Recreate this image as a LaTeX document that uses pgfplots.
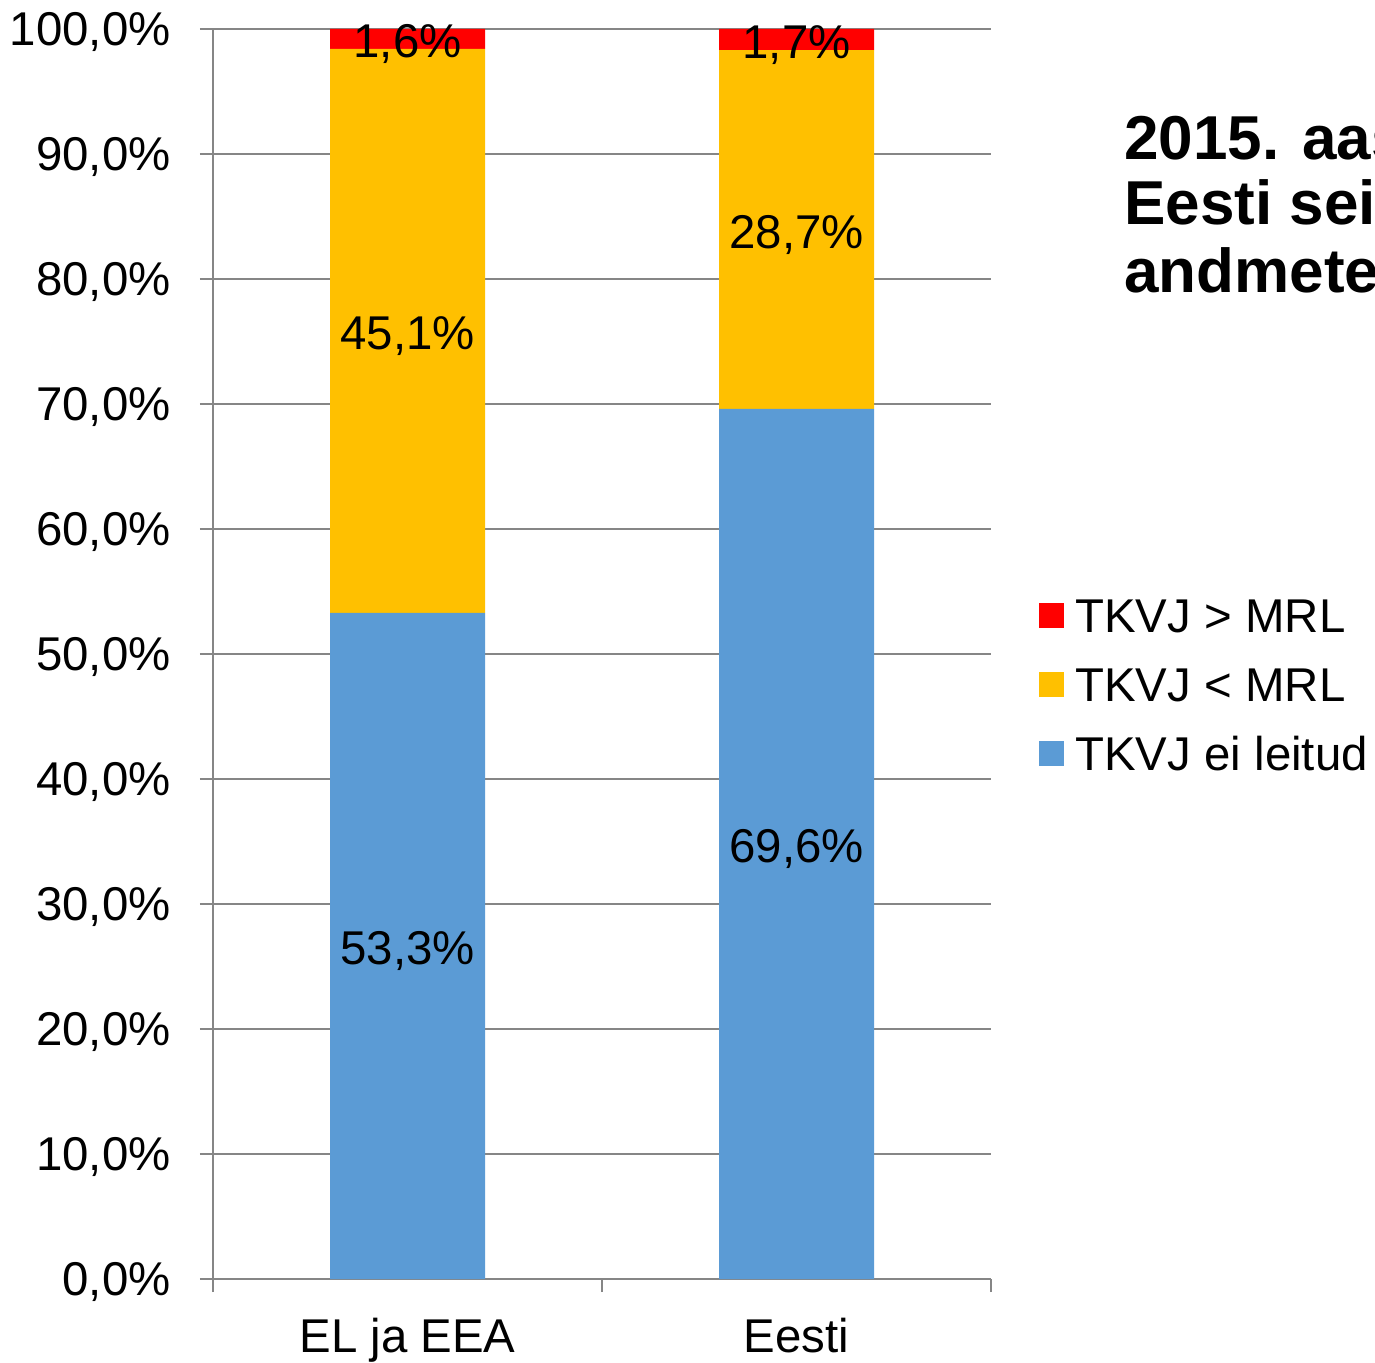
\documentclass[border=0pt]{standalone}
\usepackage{fontspec}
\setmainfont{Liberation Sans}
\usepackage{pgfplots}
\pgfplotsset{compat=1.18}
\usepackage{pgfplotstable}

\definecolor{cblue}{RGB}{91,155,213}
\definecolor{cyel}{RGB}{255,192,0}
\definecolor{cred}{RGB}{255,0,0}
\definecolor{cgrid}{RGB}{134,134,134}

% shares in percent, bottom to top
\pgfplotstableread{
x blue yellow red
0 53.3 45.1 1.6
1 69.6 28.7 1.7
}\shares

\newcommand\bigf{\fontsize{23.7pt}{28pt}\selectfont}

\begin{document}
\begin{tikzpicture}
\useasboundingbox (0pt,0pt) rectangle (687.5pt,681pt);
\begin{axis}[
    at={(106.5pt,41.5pt)}, anchor=south west,
    scale only axis, width=389pt, height=625pt,
    ybar stacked, bar width=77.5pt,
    xmin=-0.5, xmax=1.5, ymin=0, ymax=100,
    axis x line*=bottom, axis y line*=left,
    axis line style={cgrid, line width=0.75pt, -},
    tick style={cgrid, line width=0.75pt},
    tick align=outside, major tick length=6.5pt,
    ymajorgrids, grid style={cgrid, line width=0.75pt},
    /pgf/number format/assume math mode=true,
    ytick={0,10,...,100},
    yticklabel={\pgfmathprintnumber[fixed,fixed zerofill,precision=1,use comma]{\tick}\%},
    xtick={-0.5,0.5,1.5}, xticklabels={,,},
    extra x ticks={0,1}, extra x tick labels={EL ja EEA,Eesti},
    extra x tick style={major tick length=0pt},
    tick label style={font=\bigf},
    yticklabel style={inner sep=0pt, xshift=-14.5pt, yshift=-1.5pt},
    xticklabel style={inner sep=0pt, text height=17pt, yshift=-19.5pt},
    point meta=explicit,
    nodes near coords={\pgfmathprintnumber[fixed,fixed zerofill,precision=1,use comma]{\pgfplotspointmeta}\%},
    every node near coord/.append style={font=\bigf, text=black, anchor=center, yshift=-2.5pt},
    reverse legend,
    legend style={at={(1.0617,0.548)}, anchor=north west, draw=none, fill=none,
        inner sep=0pt, font=\bigf, row sep=12pt, column sep=3.5pt,
        cells={anchor=base west, inner sep=0pt, text height=17pt, text depth=0pt}},
    sq/.style={legend image code/.code={\fill[##1,draw=none] (0pt,2pt) rectangle (12.5pt,14.5pt);}},
]
\addplot[fill=cblue, draw=none, sq] table[x=x, y=blue, meta=blue] {\shares};
\addlegendentry{TKVJ ei leitud}
\addplot[fill=cyel, draw=none, sq] table[x=x, y=yellow, meta=yellow] {\shares};
\addlegendentry{TKVJ < MRL}
\addplot[fill=cred, draw=none, sq] table[x=x, y=red, meta=red] {\shares};
\addlegendentry{TKVJ > MRL}
\end{axis}
\begin{scope}[overlay, font=\fontsize{31pt}{33pt}\selectfont\bfseries]
\node[anchor=base west, inner sep=0pt] at (562pt,601pt) {2015. aasta};
\node[anchor=base west, inner sep=0pt] at (562pt,568.5pt) {Eesti seire};
\node[anchor=base west, inner sep=0pt] at (562pt,534.5pt) {andmetel};
\end{scope}
\end{tikzpicture}
\end{document}
